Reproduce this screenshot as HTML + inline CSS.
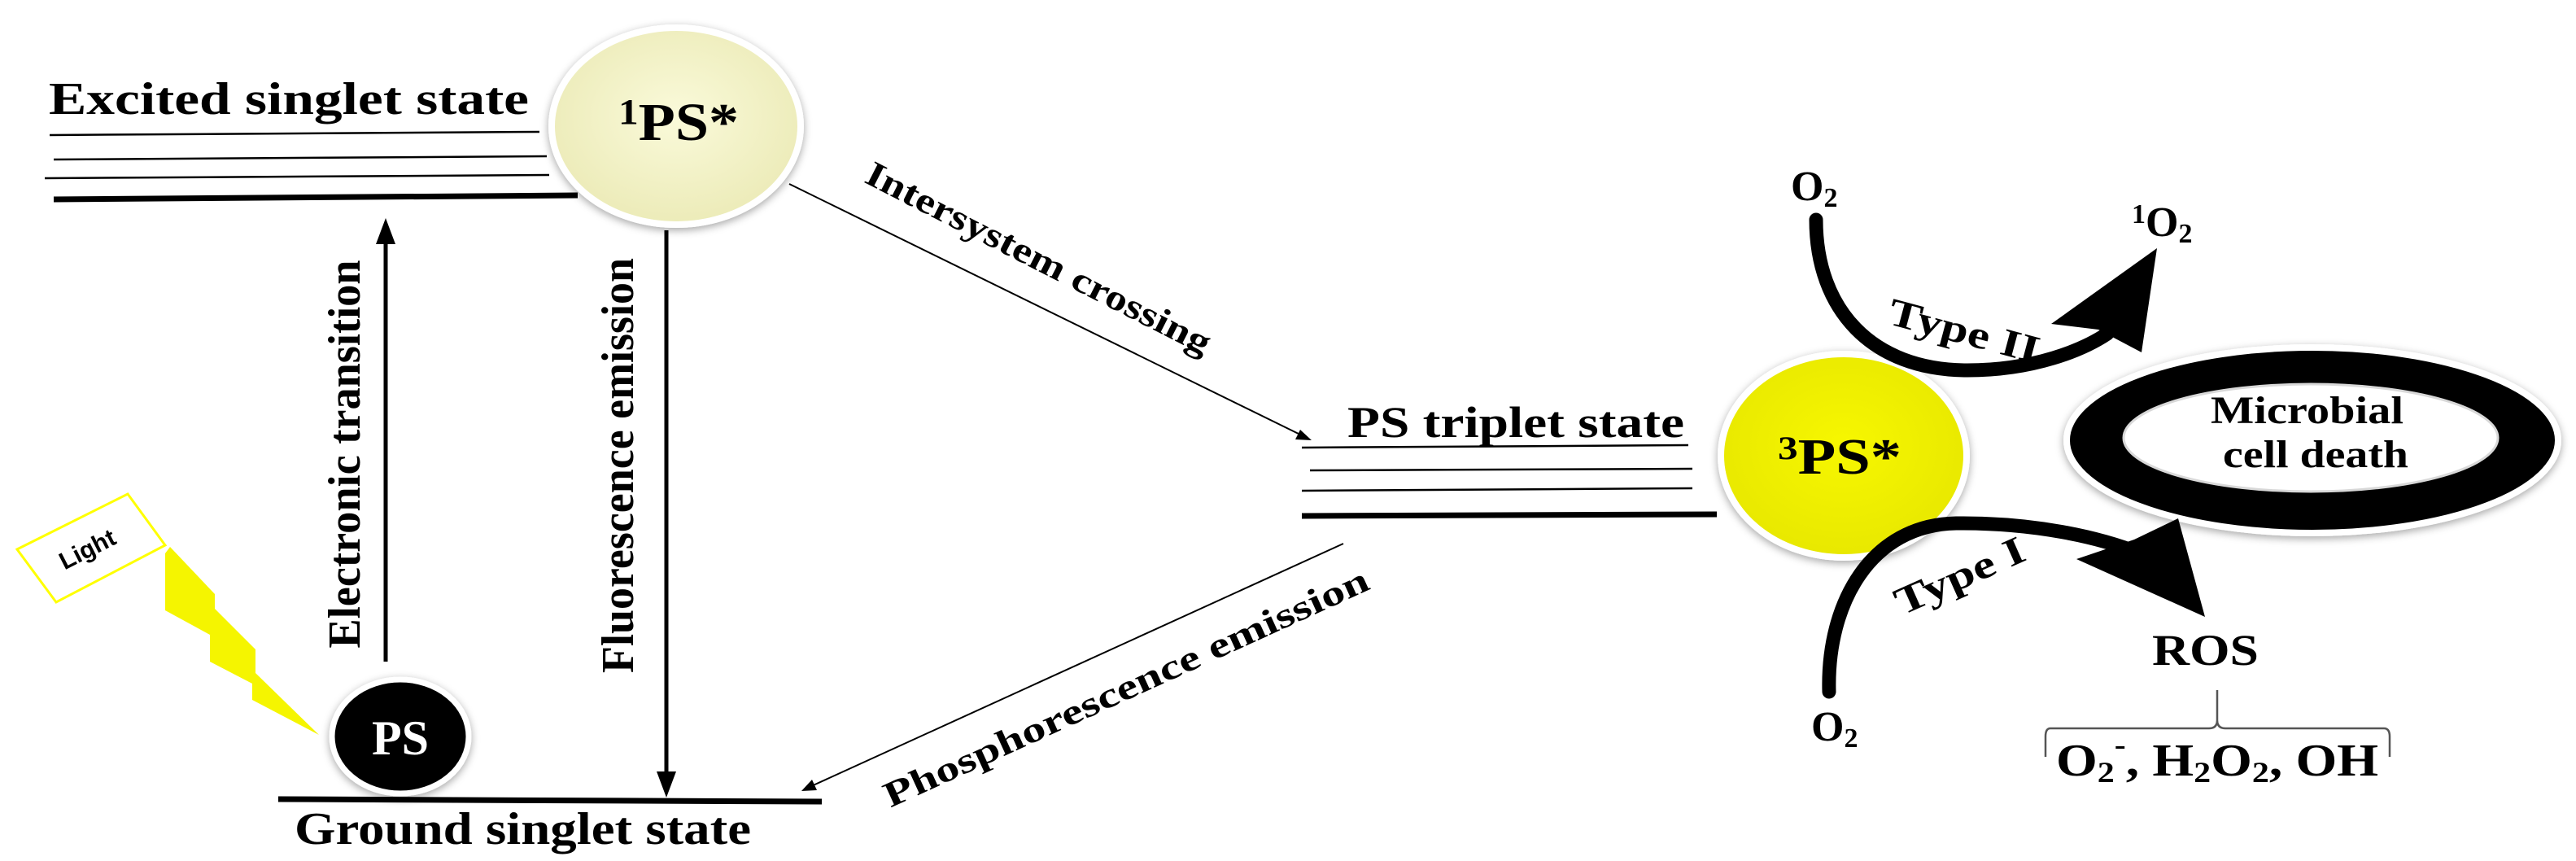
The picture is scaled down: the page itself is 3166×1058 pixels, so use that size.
<!DOCTYPE html>
<html><head><meta charset="utf-8"><style>
html,body{margin:0;padding:0;background:#fff}
svg{display:block}
text{font-family:"Liberation Serif",serif;font-weight:bold;fill:#000}
</style></head><body>
<svg width="3166" height="1058" viewBox="0 0 3166 1058" xmlns="http://www.w3.org/2000/svg">
<defs>
<radialGradient id="g1" cx="50%" cy="45%" r="55%"><stop offset="0" stop-color="#fafada"/><stop offset="1" stop-color="#ecebb8"/></radialGradient>
<radialGradient id="g3" cx="50%" cy="45%" r="55%"><stop offset="0" stop-color="#f7f700"/><stop offset="1" stop-color="#e8e800"/></radialGradient>
<filter id="sh" x="-20%" y="-20%" width="140%" height="140%"><feDropShadow dx="0" dy="3" stdDeviation="5" flood-color="#000" flood-opacity="0.35"/></filter>
</defs>

<text x="60" y="140" font-size="56" textLength="590" lengthAdjust="spacingAndGlyphs">Excited singlet state</text>
<line x1="61" y1="166" x2="663" y2="162" stroke="#000" stroke-width="2.5"/>
<line x1="66" y1="196" x2="672" y2="192" stroke="#000" stroke-width="2.5"/>
<line x1="55" y1="219" x2="675" y2="215" stroke="#000" stroke-width="2.5"/>
<line x1="66" y1="245" x2="710" y2="240" stroke="#000" stroke-width="7"/>

<ellipse cx="831" cy="155" rx="153" ry="121" fill="url(#g1)" stroke="#fff" stroke-width="8" filter="url(#sh)"/>
<text x="760" y="172" font-size="66" textLength="148" lengthAdjust="spacingAndGlyphs"><tspan font-size="44" dy="-20">1</tspan><tspan dy="20">PS*</tspan></text>

<line x1="474" y1="813" x2="474" y2="300" stroke="#000" stroke-width="5"/>
<polygon points="474,268 462,300 486,300" fill="#000"/>
<text transform="translate(442,558) rotate(-90)" font-size="56" text-anchor="middle" textLength="477" lengthAdjust="spacingAndGlyphs">Electronic transition</text>

<line x1="819" y1="283" x2="819" y2="950" stroke="#000" stroke-width="5"/>
<polygon points="819,980 807,948 831,948" fill="#000"/>
<text transform="translate(778,572) rotate(-90)" font-size="56" text-anchor="middle" textLength="510" lengthAdjust="spacingAndGlyphs">Fluorescence emission</text>

<line x1="342" y1="982" x2="1010" y2="985" stroke="#000" stroke-width="7"/>
<text x="362" y="1037" font-size="56" textLength="561" lengthAdjust="spacingAndGlyphs">Ground singlet state</text>

<ellipse cx="492" cy="905" rx="84" ry="70" fill="#000" stroke="#fff" stroke-width="7" filter="url(#sh)"/>
<text x="492" y="927" font-size="60" text-anchor="middle" style="fill:#fff">PS</text>

<polygon points="21,675 157,607 203,670 69,740" fill="#fff" stroke="#ffff00" stroke-width="3"/>
<text transform="translate(112,684) rotate(-27)" font-size="30" text-anchor="middle" style="font-family:'Liberation Sans',sans-serif">Light</text>
<polygon points="209,672 264,730 264,748 314,798 314,827 392,903 310,860 310,840 258,813 258,780 203,750 203,680" fill="#f5f500"/>

<line x1="970" y1="226" x2="1600" y2="535" stroke="#000" stroke-width="2"/>
<polygon points="1612,541 1592,540 1598,528" fill="#000"/>
<text transform="translate(1270,330) rotate(27)" font-size="44" text-anchor="middle" textLength="470" lengthAdjust="spacingAndGlyphs">Intersystem crossing</text>

<line x1="1651" y1="668" x2="995" y2="967" stroke="#000" stroke-width="2"/>
<polygon points="985,972 998,958 1004,971" fill="#000"/>
<text transform="translate(1390,858) rotate(-24.5)" font-size="44" text-anchor="middle" textLength="650" lengthAdjust="spacingAndGlyphs">Phosphorescence emission</text>

<text x="1656" y="537" font-size="54" textLength="414" lengthAdjust="spacingAndGlyphs">PS triplet state</text>
<line x1="1600" y1="550" x2="2075" y2="547" stroke="#000" stroke-width="2.5"/>
<line x1="1610" y1="578" x2="2080" y2="576" stroke="#000" stroke-width="2.5"/>
<line x1="1600" y1="603" x2="2080" y2="600" stroke="#000" stroke-width="2.5"/>
<line x1="1600" y1="634" x2="2110" y2="632" stroke="#000" stroke-width="7"/>

<ellipse cx="2266" cy="560" rx="151" ry="125" fill="url(#g3)" stroke="#fff" stroke-width="8" filter="url(#sh)"/>
<text x="2185" y="582" font-size="62" textLength="152" lengthAdjust="spacingAndGlyphs"><tspan font-size="40" dy="-18">3</tspan><tspan dy="18">PS*</tspan></text>

<ellipse cx="2842" cy="541" rx="302" ry="114" fill="#000" stroke="#fff" stroke-width="8" filter="url(#sh)"/>
<ellipse cx="2840" cy="538" rx="230" ry="66" fill="#fff" stroke="#d8d8d8" stroke-width="3"/>
<text x="2717" y="520" font-size="48" textLength="237" lengthAdjust="spacingAndGlyphs">Microbial</text>
<text x="2732" y="574" font-size="48" textLength="228" lengthAdjust="spacingAndGlyphs">cell death</text>

<text x="2201" y="246" font-size="52">O<tspan font-size="34" dy="8">2</tspan></text>
<text x="2620" y="290" font-size="52"><tspan font-size="34" dy="-16">1</tspan><tspan dy="16">O</tspan><tspan font-size="34" dy="8">2</tspan></text>
<path d="M2232,270 C2232,380 2300,455 2418,455 C2500,455 2560,430 2590,410" fill="none" stroke="#000" stroke-width="17" stroke-linecap="round"/>
<polygon points="2651,305 2521,398 2579,405 2632,433" fill="#000"/>
<text transform="translate(2410,422) rotate(15)" font-size="48" text-anchor="middle" textLength="190" lengthAdjust="spacingAndGlyphs">Type II</text>

<path d="M2248,850 C2245,740 2300,645 2404,643 C2500,642 2580,660 2630,680" fill="none" stroke="#000" stroke-width="17" stroke-linecap="round"/>
<polygon points="2710,758 2552,687 2623,663 2677,637" fill="#000"/>
<text transform="translate(2415,722) rotate(-24)" font-size="48" text-anchor="middle" textLength="170" lengthAdjust="spacingAndGlyphs">Type I</text>
<text x="2226" y="910" font-size="52">O<tspan font-size="34" dy="8">2</tspan></text>

<text x="2645" y="817" font-size="54" textLength="131" lengthAdjust="spacingAndGlyphs">ROS</text>
<path d="M2725,848 L2725,885 Q2725,895 2715,895 L2520,895 Q2514,895 2514,905 L2514,930 M2725,885 Q2725,895 2735,895 L2930,895 Q2937,895 2937,905 L2937,930" fill="none" stroke="#555" stroke-width="2.5"/>
<text x="2527" y="953" font-size="56" textLength="396" lengthAdjust="spacingAndGlyphs">O<tspan font-size="36" dy="8">2</tspan><tspan font-size="36" dy="-34">-</tspan><tspan dy="26">, H</tspan><tspan font-size="36" dy="8">2</tspan><tspan dy="-8">O</tspan><tspan font-size="36" dy="8">2</tspan><tspan dy="-8">, OH</tspan></text>
</svg>
</body></html>
